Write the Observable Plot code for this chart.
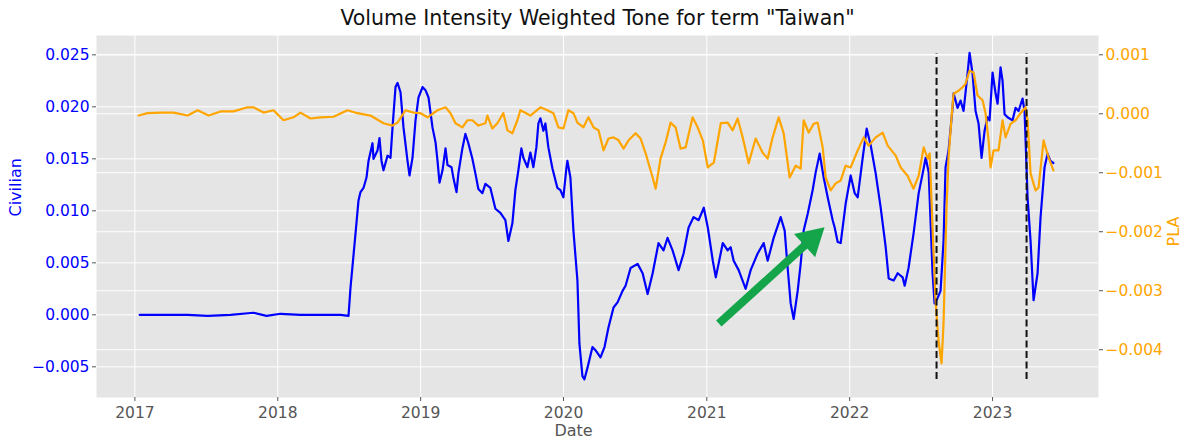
<!DOCTYPE html>
<html>
<head>
<meta charset="utf-8">
<script src="https://cdn.jsdelivr.net/npm/d3@7"></script>
<script src="https://cdn.jsdelivr.net/npm/@observablehq/plot@0.6"></script>
<style>
  html, body { margin: 0; padding: 0; background: #ffffff; }
  #chart { width: 1181px; height: 438px; }
</style>
</head>
<body>
<div id="chart"></div>
<script>
// ---------- data (decimal years) ----------
const civilianYears = [
  2017.033, 2017.180, 2017.369, 2017.509, 2017.669, 2017.830, 2017.921, 2018.019, 2018.159, 2018.299,
  2018.439, 2018.495, 2018.509, 2018.544, 2018.565, 2018.579, 2018.600, 2018.621, 2018.635, 2018.663,
  2018.670, 2018.698, 2018.712, 2018.726, 2018.740, 2018.768, 2018.789, 2018.803, 2018.824, 2018.838,
  2018.859, 2018.880, 2018.908, 2018.922, 2018.943, 2018.964, 2018.985, 2019.013, 2019.034, 2019.055,
  2019.083, 2019.104, 2019.118, 2019.132, 2019.153, 2019.174, 2019.188, 2019.216, 2019.230, 2019.251,
  2019.264, 2019.292, 2019.313, 2019.334, 2019.362, 2019.383, 2019.404, 2019.432, 2019.453, 2019.488,
  2019.523, 2019.558, 2019.593, 2019.614, 2019.642, 2019.663, 2019.684, 2019.705, 2019.719, 2019.747,
  2019.768, 2019.789, 2019.810, 2019.824, 2019.838, 2019.859, 2019.873, 2019.894, 2019.922, 2019.957,
  2019.978, 2019.999, 2020.020, 2020.027, 2020.048, 2020.069, 2020.097, 2020.111, 2020.132, 2020.146,
  2020.167, 2020.202, 2020.223, 2020.258, 2020.286, 2020.314, 2020.349, 2020.377, 2020.412, 2020.433,
  2020.468, 2020.517, 2020.552, 2020.587, 2020.622, 2020.663, 2020.698, 2020.726, 2020.761, 2020.803,
  2020.838, 2020.873, 2020.908, 2020.943, 2020.979, 2021.007, 2021.042, 2021.063, 2021.112, 2021.146,
  2021.167, 2021.188, 2021.223, 2021.272, 2021.307, 2021.356, 2021.398, 2021.426, 2021.468, 2021.517,
  2021.545, 2021.566, 2021.587, 2021.608, 2021.636, 2021.657, 2021.678, 2021.706, 2021.741, 2021.762,
  2021.790, 2021.818, 2021.846, 2021.881, 2021.895, 2021.916, 2021.937, 2021.972, 2022.007, 2022.035,
  2022.056, 2022.091, 2022.119, 2022.147, 2022.182, 2022.217, 2022.252, 2022.273, 2022.308, 2022.336,
  2022.371, 2022.385, 2022.412, 2022.447, 2022.483, 2022.511, 2022.532, 2022.553, 2022.580, 2022.594,
  2022.615, 2022.636, 2022.657, 2022.671, 2022.692, 2022.720, 2022.727, 2022.755, 2022.776, 2022.797,
  2022.825, 2022.839, 2022.860, 2022.881, 2022.902, 2022.923, 2022.944, 2022.965, 2022.979, 2023.000,
  2023.021, 2023.035, 2023.056, 2023.070, 2023.084, 2023.105, 2023.140, 2023.161, 2023.182, 2023.210,
  2023.224, 2023.245, 2023.266, 2023.287, 2023.315, 2023.336, 2023.364, 2023.385, 2023.405, 2023.426
];
const civilianTone = [
  0.0000, 0.0000, 0.0000, -0.0001, 0.0000, 0.0002, -0.0001, 0.0001, 0.0000, 0.0000,
  0.0000, -0.0001, 0.0026, 0.0078, 0.0110, 0.0118, 0.0122, 0.0132, 0.0148, 0.0165,
  0.0150, 0.0158, 0.0170, 0.0148, 0.0139, 0.0153, 0.0151, 0.0180, 0.0219, 0.0223,
  0.0214, 0.0180, 0.0148, 0.0134, 0.0151, 0.0187, 0.0209, 0.0219, 0.0216, 0.0209,
  0.0180, 0.0166, 0.0148, 0.0127, 0.0139, 0.0160, 0.0144, 0.0142, 0.0131, 0.0118,
  0.0136, 0.0160, 0.0174, 0.0165, 0.0150, 0.0136, 0.0121, 0.0117, 0.0126, 0.0122,
  0.0102, 0.0098, 0.0091, 0.0071, 0.0088, 0.0120, 0.0139, 0.0160, 0.0151, 0.0142,
  0.0156, 0.0142, 0.0161, 0.0184, 0.0189, 0.0177, 0.0184, 0.0161, 0.0141, 0.0122,
  0.0120, 0.0113, 0.0141, 0.0148, 0.0132, 0.0081, 0.0033, -0.0028, -0.0059, -0.0062,
  -0.0051, -0.0031, -0.0034, -0.0041, -0.0031, -0.0012, 0.0007, 0.0012, 0.0023, 0.0028,
  0.0045, 0.0049, 0.0040, 0.0020, 0.0040, 0.0069, 0.0062, 0.0074, 0.0062, 0.0043,
  0.0059, 0.0084, 0.0094, 0.0091, 0.0103, 0.0084, 0.0052, 0.0036, 0.0069, 0.0062,
  0.0065, 0.0052, 0.0043, 0.0025, 0.0043, 0.0059, 0.0069, 0.0052, 0.0074, 0.0094,
  0.0081, 0.0045, 0.0011, -0.0004, 0.0023, 0.0049, 0.0081, 0.0097, 0.0120, 0.0137,
  0.0155, 0.0132, 0.0113, 0.0091, 0.0084, 0.0070, 0.0069, 0.0107, 0.0134, 0.0117,
  0.0113, 0.0151, 0.0179, 0.0163, 0.0136, 0.0103, 0.0065, 0.0035, 0.0033, 0.0040,
  0.0036, 0.0028, 0.0045, 0.0078, 0.0117, 0.0136, 0.0151, 0.0137, 0.0040, 0.0011,
  0.0016, 0.0023, 0.0071, 0.0142, 0.0158, 0.0199, 0.0213, 0.0199, 0.0206, 0.0196,
  0.0232, 0.0252, 0.0232, 0.0196, 0.0184, 0.0151, 0.0177, 0.0190, 0.0187, 0.0233,
  0.0213, 0.0203, 0.0238, 0.0225, 0.0193, 0.0190, 0.0187, 0.0199, 0.0196, 0.0208,
  0.0196, 0.0113, 0.0071, 0.0014, 0.0040, 0.0094, 0.0142, 0.0155, 0.0148, 0.0146
];
const plaYears = [
  2017.026, 2017.089, 2017.180, 2017.271, 2017.369, 2017.439, 2017.516, 2017.600, 2017.690, 2017.788,
  2017.830, 2017.900, 2017.970, 2018.040, 2018.110, 2018.159, 2018.229, 2018.299, 2018.390, 2018.488,
  2018.558, 2018.649, 2018.740, 2018.803, 2018.838, 2018.894, 2018.950, 2018.999, 2019.048, 2019.118,
  2019.174, 2019.209, 2019.244, 2019.292, 2019.327, 2019.362, 2019.404, 2019.453, 2019.467, 2019.502,
  2019.537, 2019.579, 2019.607, 2019.642, 2019.677, 2019.698, 2019.768, 2019.838, 2019.887, 2019.929,
  2019.964, 2019.999, 2020.034, 2020.069, 2020.097, 2020.139, 2020.174, 2020.209, 2020.244, 2020.279,
  2020.314, 2020.349, 2020.384, 2020.419, 2020.454, 2020.503, 2020.538, 2020.573, 2020.622, 2020.643,
  2020.677, 2020.712, 2020.747, 2020.782, 2020.817, 2020.852, 2020.901, 2020.936, 2020.972, 2021.007,
  2021.049, 2021.098, 2021.146, 2021.181, 2021.216, 2021.251, 2021.293, 2021.342, 2021.391, 2021.426,
  2021.461, 2021.503, 2021.538, 2021.580, 2021.622, 2021.657, 2021.678, 2021.713, 2021.748, 2021.776,
  2021.811, 2021.832, 2021.867, 2021.902, 2021.937, 2021.972, 2022.007, 2022.056, 2022.098, 2022.133,
  2022.182, 2022.231, 2022.266, 2022.322, 2022.357, 2022.405, 2022.447, 2022.483, 2022.518, 2022.546,
  2022.560, 2022.580, 2022.601, 2022.622, 2022.643, 2022.657, 2022.678, 2022.692, 2022.713, 2022.727,
  2022.762, 2022.790, 2022.811, 2022.839, 2022.867, 2022.895, 2022.930, 2022.951, 2022.972, 2022.986,
  2023.007, 2023.042, 2023.070, 2023.091, 2023.126, 2023.161, 2023.196, 2023.231, 2023.245, 2023.266,
  2023.301, 2023.322, 2023.357, 2023.371, 2023.392, 2023.426
];
const plaTone = [
  -0.00003, 0.00001, 0.00002, 0.00002, -0.00003, 0.00006, -0.00003, 0.00004, 0.00004, 0.00011,
  0.00011, 0.00002, 0.00006, -0.00011, -0.00006, 0.00002, -0.00008, -0.00006, -0.00005, 0.00006,
  0.00001, -0.00003, -0.00016, -0.00020, -0.00015, 0.00006, 0.00002, 0.00001, -0.00006, 0.00006,
  0.00011, 0.00001, -0.00016, -0.00023, -0.00011, -0.00011, -0.00020, -0.00016, -0.00003, -0.00025,
  -0.00016, 0.00001, -0.00028, -0.00033, -0.00011, 0.00006, -0.00003, 0.00011, 0.00006, 0.00001,
  -0.00023, -0.00025, 0.00006, 0.00001, -0.00015, -0.00023, -0.00006, -0.00023, -0.00028, -0.00062,
  -0.00042, -0.00040, -0.00045, -0.00059, -0.00045, -0.00033, -0.00042, -0.00067, -0.00108, -0.00127,
  -0.00076, -0.00049, -0.00015, -0.00023, -0.00059, -0.00057, -0.00006, -0.00023, -0.00045, -0.00091,
  -0.00083, -0.00016, -0.00015, -0.00028, -0.00008, -0.00040, -0.00084, -0.00042, -0.00066, -0.00076,
  -0.00040, -0.00006, -0.00033, -0.00108, -0.00088, -0.00093, -0.00011, -0.00032, -0.00017, -0.00015,
  -0.00057, -0.00108, -0.00130, -0.00118, -0.00113, -0.00088, -0.00091, -0.00062, -0.00040, -0.00054,
  -0.00040, -0.00032, -0.00054, -0.00071, -0.00091, -0.00105, -0.00127, -0.00105, -0.00057, -0.00076,
  -0.00067, -0.00193, -0.00317, -0.00385, -0.00423, -0.00355, -0.00159, -0.00074, -0.00006, 0.00034,
  0.00039, 0.00045, 0.00051, 0.00073, 0.00070, 0.00031, 0.00023, 0.00001, -0.00045, -0.00091,
  -0.00062, -0.00062, -0.00011, -0.00040, -0.00017, -0.00011, 0.00001, 0.00011, -0.00011, -0.00101,
  -0.00130, -0.00125, -0.00045, -0.00057, -0.00074, -0.00096
];

const yearTicks = [2017, 2018, 2019, 2020, 2021, 2022, 2023];
const civilianTicks = [-0.005, 0, 0.005, 0.010, 0.015, 0.020, 0.025];
const plaTicks = [-0.004, -0.003, -0.002, -0.001, 0, 0.001];
const eventYears = [2022.608, 2023.238];          // dashed event markers
const eventSpan = [0.05, 0.95];                    // axvline ymin / ymax (axes fraction)
const arrowNote = [{x1: 2021.084, y1: -0.00084, x2: 2021.731, y2: 0.00724}];

const titleText = 'Volume Intensity Weighted Tone for term "Taiwan"';
const xLabel = "Date", yLabelLeft = "Civilian", yLabelRight = "PLA";

// ---------- scales ----------
const xDomainYears = [2016.732, 2023.7415];
const yDomain = [-0.00795, 0.02686];
const plaDomain = [-0.00481, 0.001327];

function yd(t) {
  const y = Math.floor(t);
  const a = Date.UTC(y, 0, 1), b = Date.UTC(y + 1, 0, 1);
  return new Date(a + (t - y) * (b - a));
}
const toCiv = p => yDomain[0] + (p - plaDomain[0]) / (plaDomain[1] - plaDomain[0]) * (yDomain[1] - yDomain[0]);
const fmt = d3.format(".3f");

const civ = civilianYears.map((t, i) => ({date: yd(t), value: civilianTone[i]}));
const pla = plaYears.map((t, i) => ({date: yd(t), value: toCiv(plaTone[i])}));
const plaTickPos = plaTicks.map(toCiv);
const plaLabel = new Map(plaTicks.map(p => [toCiv(p), fmt(p)]));
const events = eventYears.map(t => ({
  date: yd(t),
  y1: yDomain[0] + eventSpan[0] * (yDomain[1] - yDomain[0]),
  y2: yDomain[0] + eventSpan[1] * (yDomain[1] - yDomain[0])
}));
const arrow = arrowNote.map(a => ({x1: yd(a.x1), y1: a.y1, x2: yd(a.x2), y2: a.y2}));
const yearDates = yearTicks.map(y => yd(y));

const green = "#14a54b";
const font = "'DejaVu Sans', sans-serif";

const chart = Plot.plot({
  width: 1181,
  height: 438,
  marginTop: 35,
  marginBottom: 41,
  marginLeft: 96,
  marginRight: 83,
  style: {fontFamily: font, fontSize: "15.5px", background: "#ffffff", overflow: "visible"},
  x: {type: "utc", domain: xDomainYears.map(yd)},
  y: {domain: yDomain},
  marks: [
    Plot.frame({fill: "#e5e5e5", stroke: "none"}),
    Plot.gridX(yearDates, {stroke: "#ffffff", strokeOpacity: 1, strokeWidth: 1}),
    Plot.gridY(civilianTicks, {stroke: "#ffffff", strokeOpacity: 1, strokeWidth: 1}),
    Plot.gridY(plaTickPos, {stroke: "#ffffff", strokeOpacity: 1, strokeWidth: 1}),
    Plot.axisX(yearDates, {tickFormat: d3.utcFormat("%Y"), tickSize: 4, tickPadding: 5, stroke: "#555", fill: "#555", label: null}),
    Plot.axisY(civilianTicks, {anchor: "left", tickFormat: fmt, tickSize: 4, tickPadding: 3, stroke: "#555", fill: "blue", label: null}),
    Plot.axisY(plaTickPos, {anchor: "right", tickFormat: d => plaLabel.get(d), tickSize: 4, tickPadding: 3, stroke: "#555", fill: "orange", label: null}),
    Plot.line(civ, {x: "date", y: "value", stroke: "blue", strokeWidth: 2.2}),
    Plot.line(pla, {x: "date", y: "value", stroke: "orange", strokeWidth: 2.2}),
    Plot.ruleX(events, {x: "date", y1: "y1", y2: "y2", stroke: "#111", strokeWidth: 2, strokeDasharray: "7,3.5"}),
    Plot.link(arrow, {x1: "x1", y1: "y1", x2: "x2", y2: "y2", stroke: green, strokeWidth: 8, strokeLinecap: "butt"}),
    Plot.dot(arrow, {x: "x2", y: "y2", symbol: "triangle", r: 11.6, rotate: 47.5, fill: green, stroke: "none"}),
    Plot.text([titleText], {text: d => d, frameAnchor: "top", lineAnchor: "middle", dy: -17, fontSize: 20.5, fill: "#111"}),
    Plot.text([yLabelLeft], {text: d => d, frameAnchor: "left", lineAnchor: "middle", dx: -81, rotate: -90, fontSize: 16, fill: "blue"}),
    Plot.text([yLabelRight], {text: d => d, frameAnchor: "right", lineAnchor: "middle", dx: 75, rotate: -90, fontSize: 16, fill: "orange"}),
    Plot.text([xLabel], {text: d => d, frameAnchor: "bottom", lineAnchor: "middle", dy: 33, dx: -24, fontSize: 16, fill: "#555"})
  ]
});
document.getElementById("chart").appendChild(chart);
</script>
</body>
</html>
